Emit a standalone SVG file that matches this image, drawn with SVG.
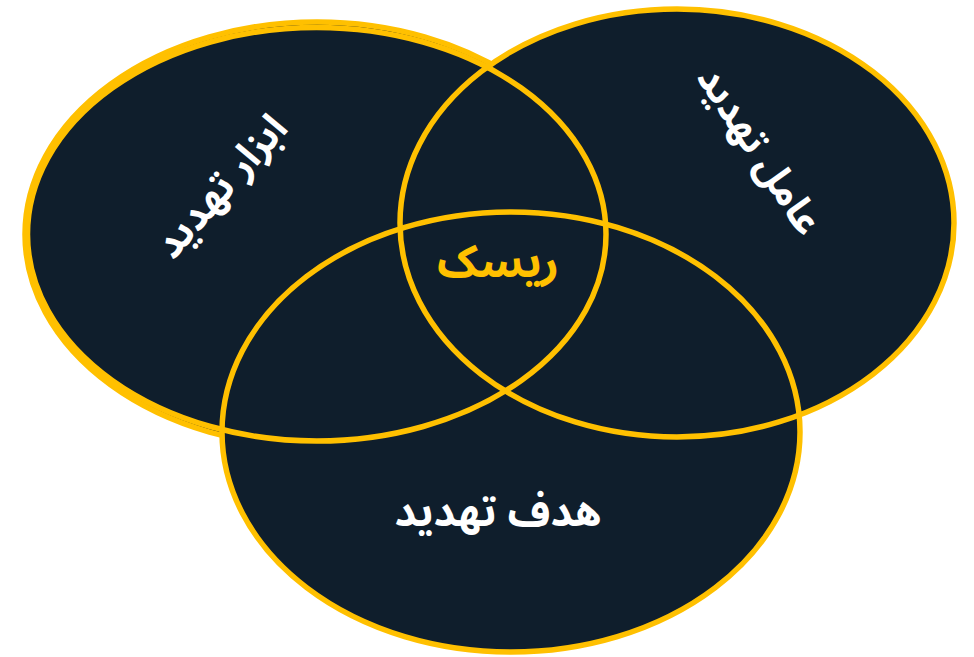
<svg xmlns="http://www.w3.org/2000/svg" width="974" height="657" viewBox="0 0 974 657">
<style>
.fill{fill:#0F1E2C;stroke:none}
.ring{fill:none;stroke:#FFC000;stroke-width:5.5}
.lbl{font-family:"Noto Sans Arabic","DejaVu Sans",sans-serif;font-weight:bold;text-anchor:middle;dominant-baseline:central;direction:rtl}
.w{fill:#FFFFFF}
.y{fill:#FFC000}
</style>
<rect width="974" height="657" fill="#FFFFFF"/>
<g id="shadow-left">
<ellipse cx="317" cy="234.5" rx="292" ry="212.5" fill="#0F1E2C" stroke="#FFC000" stroke-width="5.5"/>
</g>
<g id="fills">
<ellipse class="fill" cx="316.75" cy="234.25" rx="289.25" ry="206.75"/>
<ellipse class="fill" cx="677" cy="223" rx="277" ry="214"/>
<ellipse class="fill" cx="511" cy="432" rx="289" ry="220"/>
</g>
<g id="node-tools">
<ellipse class="ring" cx="316.75" cy="234.25" rx="289.25" ry="206.75"/>
<text class="lbl w" font-size="40" transform="translate(222,187) rotate(-48.5)">ابزار تهدید</text>
</g>
<g id="node-agent">
<ellipse class="ring" cx="677" cy="223" rx="277" ry="214"/>
<text class="lbl w" font-size="39" transform="translate(759,151) rotate(56.7)">عامل تهدید</text>
</g>
<g id="node-target">
<ellipse class="ring" cx="511" cy="432" rx="289" ry="220"/>
<text class="lbl w" font-size="42" x="498" y="512">هدف تهدید</text>
</g>
<g id="node-risk">
<text class="lbl y" font-size="45" x="498" y="262">ریسک</text>
</g>
<g id="connectors"/>
</svg>
